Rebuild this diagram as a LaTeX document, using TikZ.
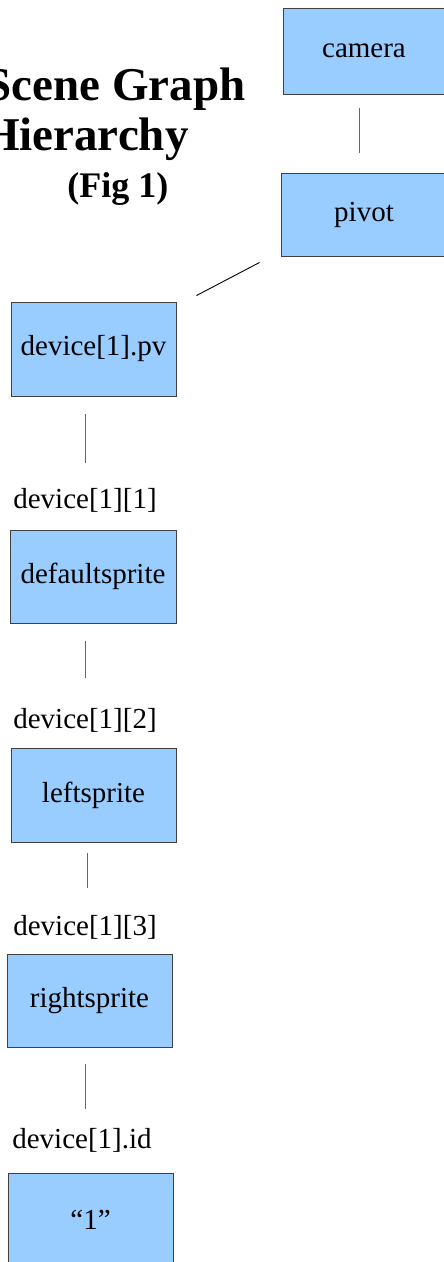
\documentclass[tikz,border=0pt]{standalone}
\usepackage{fontspec}
\setmainfont{Liberation Serif}
\usepackage{tikz}

\definecolor{boxblue}{HTML}{99CCFF}

\begin{document}
\begin{tikzpicture}[x=1pt, y=-1pt,
    box/.style={rectangle, draw=black!75, line width=0.9pt, fill=boxblue,
        minimum width=165pt, minimum height=93pt, inner sep=0pt,
        font=\fontsize{29}{34}\selectfont},
    lbl/.style={inner sep=0pt, text height=20pt, text depth=6pt,
        font=\fontsize{29}{34}\selectfont},
    link/.style={draw=black!60, line width=0.9pt}]
    \useasboundingbox (0,0) rectangle (444,1262);

    % Title
    \node[anchor=base east, font=\fontsize{47}{52}\bfseries] (title1) at (249,100) {Scene Graph};
    \node[anchor=base east, font=\fontsize{47}{52}\bfseries] (title2) at (192,150) {Hierarchy};
    \node[anchor=base east, font=\fontsize{36}{40}\bfseries] (fig) at (172,197) {(Fig 1)};

    % Nodes
    \node[box, minimum width=162pt, minimum height=86pt] (camera) at (364,51) {camera};
    \node[box, minimum width=166pt, minimum height=83pt] (pivot) at (364,214.5) {pivot};
    \node[box, minimum height=94pt] (pv) at (93.5,349) {device[1].pv};
    \node[lbl] (lbl1) at (85,501) {device[1][1]};
    \node[box, minimum width=166pt] (default) at (93,576.5) {defaultsprite};
    \node[lbl] (lbl2) at (85,721) {device[1][2]};
    \node[box, minimum height=94pt] (left) at (93.5,795) {leftsprite};
    \node[lbl] (lbl3) at (85,928) {device[1][3]};
    \node[box] (right) at (89.5,1000.5) {rightsprite};
    \node[lbl] (lbl4) at (82,1141) {device[1].id};
    \node[box, minimum height=94pt] (one) at (90.5,1220) {``1''};

    % Links
    \draw[link, shorten <=14pt, shorten >=20pt] ([xshift=-5pt]camera.south) -- ([xshift=-5pt]pivot.north);
    \draw[link, draw=black] ([shift={(-21,6)}]pivot.south west) -- ([shift={(20,-6)}]pv.north east);
    \draw[link, shorten <=18pt, shorten >=25pt] (pv.south -| lbl1) -- (lbl1);
    \draw[link, shorten <=18pt, shorten >=30pt] (default.south -| lbl2) -- (lbl2);
    \draw[link, shorten <=11pt, shorten >=27pt] ([xshift=2pt]left.south -| lbl3) -- ([xshift=2pt]lbl3.north);
    \draw[link, shorten <=17pt, shorten >=19pt] ([xshift=3pt]right.south -| lbl4) -- ([xshift=3pt]lbl4.north);
\end{tikzpicture}
\end{document}
